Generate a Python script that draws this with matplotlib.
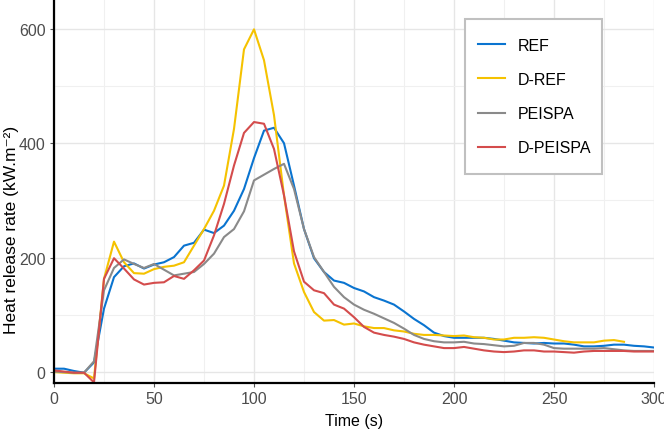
import numpy as np
import matplotlib
matplotlib.use("Agg")
import matplotlib.pyplot as plt
from matplotlib.ticker import MultipleLocator
from matplotlib.patches import Rectangle

# Time axis (s), sampled every 5 s.
time_s = list(range(0, 305, 5))
time_dref = list(range(0, 290, 5))  # D-REF stops at 285 s

# Heat release rate (kW.m-2).
hrr_ref = [6, 6, 2, -1, 17, 111, 166, 185, 190, 181, 188, 192, 201, 221, 226, 249, 243, 256, 282, 320,
           374, 422, 427, 400, 326, 250, 199, 175, 160, 156, 147, 141, 131, 125, 118, 106, 93, 82, 69, 63,
           60, 60, 60, 60, 58, 55, 52, 51, 50, 51, 50, 50, 48, 45, 45, 46, 48, 48, 46, 45, 43]
hrr_dref = [0, -1, -2, -2, -11, 163, 228, 192, 173, 172, 180, 184, 186, 192, 221, 250, 282, 326, 425, 564,
            599, 545, 449, 309, 190, 140, 105, 90, 91, 83, 85, 80, 77, 77, 73, 71, 67, 65, 65, 64,
            63, 64, 61, 60, 57, 57, 60, 60, 61, 60, 57, 54, 52, 52, 52, 55, 56, 53]
hrr_peispa = [1, 0, -1, -1, 19, 143, 182, 197, 189, 182, 189, 179, 169, 172, 175, 189, 207, 236, 250, 281,
              335, 345, 355, 364, 320, 250, 201, 175, 149, 131, 118, 109, 102, 94, 86, 76, 65, 58, 54, 52,
              52, 53, 50, 49, 47, 45, 46, 51, 51, 48, 42, 41, 41, 41, 41, 42, 40, 38, 37, 37, 37]
hrr_dpeispa = [3, 1, -1, -1, -18, 163, 199, 181, 162, 153, 156, 157, 168, 163, 178, 195, 239, 294, 361, 418,
               437, 434, 390, 309, 211, 158, 143, 138, 118, 111, 96, 79, 69, 65, 62, 58, 52, 48, 45, 42,
               42, 44, 41, 38, 36, 35, 36, 38, 38, 36, 36, 35, 34, 36, 37, 37, 37, 37, 36, 36, 36]

labels = ["REF", "D-REF", "PEISPA", "D-PEISPA"]
colors = ["#0a74d0", "#f5c200", "#8a8a8a", "#d44c4c"]


def main():
    plt.rcParams['font.family'] = ['Liberation Sans', 'DejaVu Sans']

    fig = plt.figure(figsize=(6.64, 4.31), dpi=100)
    ax = fig.add_axes([54 / 664, 47 / 431, 600 / 664, 384 / 431])

    series = [(time_s, hrr_ref), (time_dref, hrr_dref), (time_s, hrr_peispa), (time_s, hrr_dpeispa)]
    for (t, y), lab, c in zip(series, labels, colors):
        ax.plot(t, y, color=c, lw=1.5, label=lab, solid_joinstyle='round')

    ax.set_xlim(0, 300)
    ax.set_ylim(-19, 652)
    ax.xaxis.set_major_locator(MultipleLocator(50))
    ax.xaxis.set_minor_locator(MultipleLocator(25))
    ax.yaxis.set_major_locator(MultipleLocator(200))
    ax.yaxis.set_minor_locator(MultipleLocator(100))

    # ggplot-like grid and axis lines
    ax.grid(which='major', color='#e6e6e6', lw=1.0)
    ax.grid(which='minor', color='#f0f0f0', lw=0.8)
    ax.set_axisbelow(True)
    for s in ['top', 'right']:
        ax.spines[s].set_visible(False)
    for s in ['left', 'bottom']:
        ax.spines[s].set_color('black')
        ax.spines[s].set_linewidth(1.6)
    ax.tick_params(which='major', length=3, width=0.8, color='#555555', labelsize=11.5,
                   labelcolor='#4d4d4d', pad=3)
    ax.tick_params(which='minor', length=0)

    ax.set_xlabel("Time (s)", fontsize=11.5, color='black', labelpad=5)
    ax.set_ylabel("Heat release rate (kW.m\u207b\u00b2)", fontsize=12.5, color='black')
    ax.yaxis.set_label_coords(-0.058, 0.40)

    # Legend box drawn separately so its padding matches the reference
    ax.add_patch(Rectangle((0.685, 0.544), 0.228, 0.404, transform=ax.transAxes,
                           facecolor='white', edgecolor='#c0c0c0', lw=1.5, zorder=4.5))
    leg = ax.legend(loc='center left', bbox_to_anchor=(0.7067, 0.746), fontsize=11.5,
                    frameon=False, handlelength=1.7, handletextpad=0.8,
                    labelspacing=1.2, borderpad=0, borderaxespad=0)
    leg.set_zorder(5)

    fig.savefig("out.png", dpi=100)


if __name__ == "__main__":
    main()
